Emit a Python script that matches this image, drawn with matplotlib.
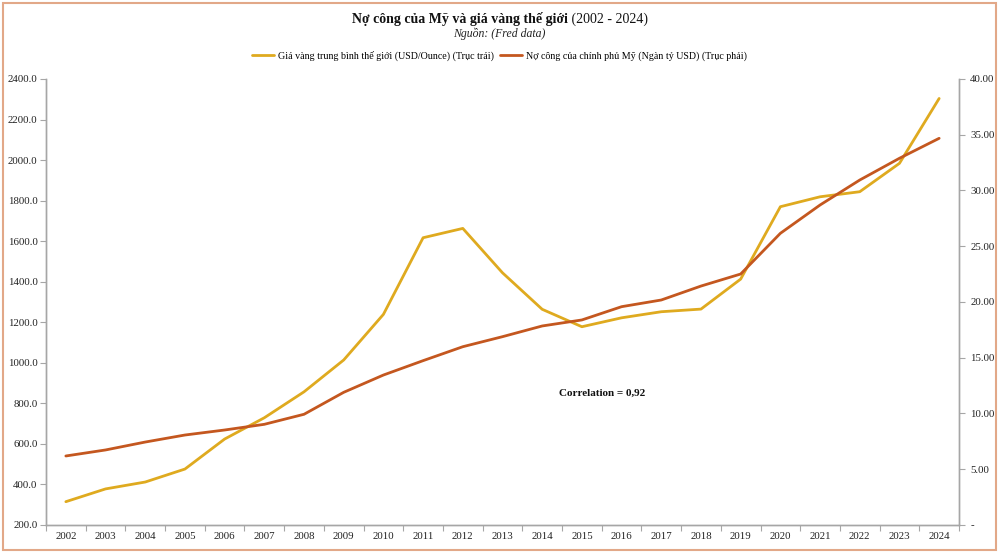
import matplotlib
matplotlib.use("Agg")
import matplotlib.pyplot as plt
from matplotlib.ticker import FixedLocator, FuncFormatter, MultipleLocator
from matplotlib.patches import Rectangle

years = [str(y) for y in range(2002, 2025)]
gold_price = [315, 378, 412, 476, 624, 729, 857, 1014, 1239, 1617, 1663, 1444,
              1264, 1178, 1222, 1252, 1265, 1413, 1770, 1819, 1844, 1984, 2304]
public_debt = [6.19, 6.73, 7.44, 8.07, 8.52, 9.03, 9.93, 11.9, 13.45, 14.74, 15.99,
               16.89, 17.85, 18.39, 19.58, 20.18, 21.43, 22.51, 26.16, 28.7, 30.94,
               32.89, 34.68]

gold_label = "Giá vàng trung bình thế giới (USD/Ounce) (Trục trái)"
debt_label = "Nợ công của chính phủ Mỹ (Ngàn tỷ USD) (Trục phải)"
title_bold = "Nợ công của Mỹ và giá vàng thế giới"
title_reg = " (2002 - 2024)"
subtitle = "Nguồn: (Fred data)"
corr_text = "Correlation = 0,92"

plt.rcParams['font.family'] = ['Liberation Serif', 'DejaVu Serif']

GOLD = '#DFAA1F'
DEBT = '#C4571F'
SPINE = '#A6A6A6'

W, H = 999, 553
fig = plt.figure(figsize=(W / 100, H / 100), dpi=100)
ax = fig.add_axes([46 / W, 1 - 525 / H, (959 - 46) / W, (525 - 79) / H])
ax2 = ax.twinx()

x = list(range(len(years)))
l1, = ax.plot(x, gold_price, color=GOLD, lw=2.0, solid_capstyle='round', zorder=3)
l2, = ax2.plot(x, public_debt, color=DEBT, lw=2.0, solid_capstyle='round', zorder=3)

ax.set_xlim(-0.5, len(years) - 0.5)
ax.set_ylim(200, 2400)
ax.yaxis.set_major_locator(MultipleLocator(200))
ax.yaxis.set_major_formatter(FuncFormatter(lambda v, p: f"{v:.1f}"))
ax2.set_ylim(0, 40)
ax2.yaxis.set_major_locator(MultipleLocator(5))
ax2.yaxis.set_major_formatter(FuncFormatter(lambda v, p: "-" if abs(v) < 1e-9 else f"{v:.2f}"))

ax.xaxis.set_major_locator(FixedLocator([i - 0.5 for i in range(len(years) + 1)]))
ax.xaxis.set_major_formatter(FuncFormatter(lambda v, p: ""))
ax.xaxis.set_minor_locator(FixedLocator(x))
ax.set_xticklabels(years, minor=True)
ax.tick_params(axis='x', which='major', length=4, color=SPINE, direction='out')
ax.tick_params(axis='x', which='minor', length=0, pad=5, labelsize=7.8, labelcolor='#222222')
ax.tick_params(axis='y', length=4, color=SPINE, labelsize=7.8, labelcolor='#222222', pad=2)
ax2.tick_params(axis='y', length=4, color=SPINE, labelsize=7.8, labelcolor='#222222', pad=4)

for a in (ax, ax2):
    a.spines['top'].set_visible(False)
    for s in ('left', 'right', 'bottom'):
        a.spines[s].set_color(SPINE)
        a.spines[s].set_linewidth(1.0)

ax.text((602 - 46) / (959 - 46), (525 - 393) / (525 - 79), corr_text, transform=ax.transAxes,
        ha='center', va='center', fontsize=8, fontweight='bold', color='#111111')

# Title (bold + regular)
t1 = fig.text(0, 1 - 19 / H, title_bold, fontsize=10, fontweight='bold', ha='left', va='center', color='#111111')
t2 = fig.text(0, 1 - 19 / H, title_reg, fontsize=10, ha='left', va='center', color='#111111')
fig.canvas.draw()
r = fig.canvas.get_renderer()
w1 = t1.get_window_extent(r).width
w2 = t2.get_window_extent(r).width
start = 499.5 - (w1 + w2) / 2
t1.set_x(start / W)
t2.set_x((start + w1) / W)

fig.text(499.5 / W, 1 - 34 / H, subtitle, fontsize=8.5, style='italic', ha='center', va='center', color='#222222')

fig.legend([l1, l2], [gold_label, debt_label], loc='center', bbox_to_anchor=(499.5 / W, 1 - 56 / H),
           ncol=2, frameon=False, fontsize=7.2, handlelength=2.2, handletextpad=0.4, columnspacing=0.6)

fig.patches.append(Rectangle((3 / W, 3 / H), (W - 6) / W, (H - 6) / H, transform=fig.transFigure,
                             fill=False, edgecolor='#E2A888', lw=1.5))

fig.savefig('out.png', dpi=100)
